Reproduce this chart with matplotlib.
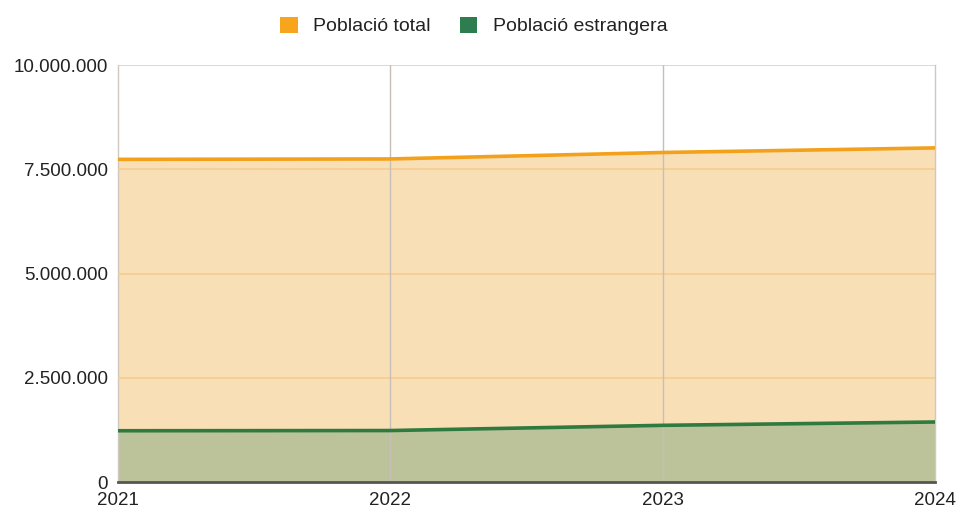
import matplotlib
matplotlib.use('Agg')
import matplotlib.pyplot as plt
from matplotlib.patches import Patch
from matplotlib.ticker import FuncFormatter

# dades (llegides del gràfic)
anys = [2021, 2022, 2023, 2024]
poblacio_total = [7740000, 7750000, 7905000, 8015000]
poblacio_estrangera = [1230000, 1235000, 1360000, 1440000]
etiquetes = ['Població total', 'Població estrangera']

plt.rcParams['font.family'] = ['Liberation Sans', 'DejaVu Sans']

fig = plt.figure(figsize=(9.59, 5.09), dpi=100)
ax = fig.add_axes([0.123, 0.053, 0.852, 0.819])

# àrees
ax.fill_between(anys, poblacio_total, color='#f9dfb5', zorder=1, lw=0)
ax.fill_between(anys, poblacio_estrangera, color='#bcc39b', zorder=2, lw=0)

# graella per sobre de les àrees
for v in [2500000, 5000000, 7500000, 10000000]:
    ax.axhline(v, color='#f6cc92', lw=1.2, zorder=3)
for a in anys[1:-1]:
    ax.axvline(a, color='#c7bfb6', lw=1, zorder=3)

# línies
ax.plot(anys, poblacio_total, color='#f3a11b', lw=2.6, zorder=4, solid_capstyle='butt')
ax.plot(anys, poblacio_estrangera, color='#2e7a3f', lw=2.6, zorder=4, solid_capstyle='butt')

ax.set_xlim(2021, 2024)
ax.set_ylim(0, 10000000)
ax.set_xticks(anys)
ax.set_yticks([0, 2500000, 5000000, 7500000, 10000000])
ax.yaxis.set_major_formatter(FuncFormatter(lambda v, p: f'{int(v):,}'.replace(',', '.')))
ax.tick_params(axis='both', length=0, labelsize=13.5, colors='#222222')
ax.tick_params(axis='y', pad=7)
ax.tick_params(axis='x', pad=7.5)

for s in ['left', 'right']:
    ax.spines[s].set_color('#cfc8c0')
    ax.spines[s].set_linewidth(1)
ax.spines['top'].set_visible(False)
ax.spines['bottom'].set_color('#555555')
ax.spines['bottom'].set_linewidth(2)
ax.spines['bottom'].set_zorder(5)

# llegenda
handles = [Patch(facecolor='#f7a51d', edgecolor='none'),
           Patch(facecolor='#2e7d4f', edgecolor='none')]
fig.legend(handles, etiquetes, loc='center', bbox_to_anchor=(0.494, 0.949), ncol=2,
           frameon=False, fontsize=14, handlelength=0.9, handleheight=0.9,
           handletextpad=0.8, columnspacing=1.5, labelcolor='#222222')

fig.savefig('out.png', dpi=100, facecolor='white')
